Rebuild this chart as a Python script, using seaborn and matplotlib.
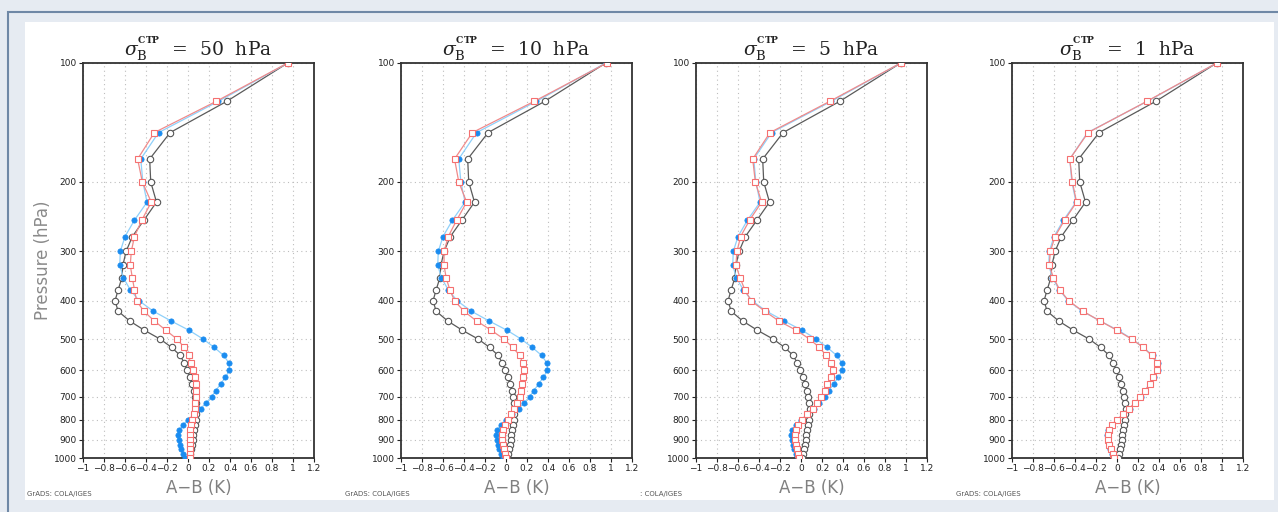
import matplotlib
matplotlib.use('Agg')
import matplotlib.pyplot as plt
import matplotlib.patches as mpatches
import seaborn as sns
import pandas as pd

# pressure levels (hPa)
levels = [100, 125, 150, 175, 200, 225, 250, 275, 300, 325, 350, 375, 400,
          425, 450, 475, 500, 525, 550, 575, 600, 625, 650, 675, 700, 725,
          750, 775, 800, 825, 850, 875, 900, 925, 950, 975, 1000]

# black open circles (same in all panels)
ctrl = [0.95, 0.37, -0.17, -0.365, -0.355, -0.30, -0.42, -0.53, -0.59, -0.62,
        -0.63, -0.665, -0.695, -0.665, -0.555, -0.415, -0.265, -0.155, -0.075,
        -0.035, -0.008, 0.018, 0.037, 0.055, 0.065, 0.075, 0.082, 0.08, 0.075,
        0.068, 0.06, 0.052, 0.045, 0.035, 0.026, 0.016, 0.005]

# blue filled dots (same in all panels)
ref = [0.95, 0.29, -0.28, -0.45, -0.43, -0.39, -0.51, -0.60, -0.645, -0.65,
       -0.615, -0.55, -0.465, -0.33, -0.16, 0.01, 0.145, 0.25, 0.34, 0.39,
       0.395, 0.355, 0.31, 0.265, 0.225, 0.172, 0.12, 0.06, 0.0, -0.05,
       -0.083, -0.097, -0.09, -0.078, -0.063, -0.047, -0.03]

# pink open squares, one per sigma
pink_50 = [0.95, 0.27, -0.32, -0.48, -0.435, -0.35, -0.44, -0.51, -0.54, -0.55,
           -0.53, -0.51, -0.49, -0.42, -0.32, -0.21, -0.105, -0.035, 0.005,
           0.025, 0.05, 0.065, 0.075, 0.08, 0.075, 0.07, 0.065, 0.055, 0.04,
           0.025, 0.02, 0.015, 0.015, 0.018, 0.02, 0.02, 0.02]
pink_10 = [0.96, 0.27, -0.32, -0.49, -0.45, -0.375, -0.47, -0.55, -0.59, -0.59,
           -0.57, -0.535, -0.49, -0.40, -0.28, -0.14, -0.02, 0.065, 0.13, 0.16,
           0.17, 0.16, 0.155, 0.145, 0.13, 0.105, 0.08, 0.05, 0.02, -0.005,
           -0.03, -0.04, -0.035, -0.03, -0.02, -0.005, 0.0]
pink_5 = [0.95, 0.275, -0.295, -0.46, -0.435, -0.375, -0.49, -0.575, -0.61,
          -0.62, -0.58, -0.535, -0.475, -0.345, -0.21, -0.045, 0.083, 0.175,
          0.24, 0.29, 0.30, 0.285, 0.25, 0.225, 0.195, 0.155, 0.11, 0.055,
          0.013, -0.03, -0.05, -0.06, -0.06, -0.05, -0.04, -0.03, -0.015]
pink_1 = [0.95, 0.285, -0.275, -0.45, -0.425, -0.385, -0.50, -0.59, -0.635,
          -0.645, -0.605, -0.545, -0.46, -0.325, -0.16, 0.0, 0.14, 0.25, 0.33,
          0.38, 0.385, 0.345, 0.31, 0.27, 0.22, 0.17, 0.115, 0.06, 0.0, -0.05,
          -0.08, -0.09, -0.09, -0.075, -0.057, -0.04, -0.025]

sigmas = ['50', '10', '5', '1']
pinks = [pink_50, pink_10, pink_5, pink_1]
xticks = [-1, -0.8, -0.6, -0.4, -0.2, 0, 0.2, 0.4, 0.6, 0.8, 1, 1.2]
xticklabels = ['\u22121', '\u22120.8', '\u22120.6', '\u22120.4', '\u22120.2', '0',
               '0.2', '0.4', '0.6', '0.8', '1', '1.2']
yticks = [100, 200, 300, 400, 500, 600, 700, 800, 900, 1000]
grads_labels = ['GrADS: COLA/IGES', 'GrADS: COLA/IGES', ': COLA/IGES', 'GrADS: COLA/IGES']

sns.set_style('white')
plt.rcParams['font.family'] = ['DejaVu Sans']
plt.rcParams['mathtext.fontset'] = 'dejavuserif'

W, H = 1278, 512
fig = plt.figure(figsize=(W / 100, H / 100), dpi=100)
fig.patch.set_facecolor('#e6ebf2')

# page frame (behind everything)
fig.patches.append(mpatches.Rectangle((8 / W, -0.1), 1.2, 1 - 12 / H + 0.1,
                                      transform=fig.transFigure, facecolor='#e6ebf2',
                                      edgecolor='#6f88a6', lw=1.5, zorder=-20))
fig.patches.append(mpatches.Rectangle((25 / W, 1 - 500 / H), (1274 - 25) / W, (500 - 22) / H,
                                      transform=fig.transFigure, facecolor='white',
                                      edgecolor='none', zorder=-10))

lefts = [83, 401, 696, 1012]
top_px, bot_px = 63, 458

for i, (sig, pink) in enumerate(zip(sigmas, pinks)):
    ax = fig.add_axes([lefts[i] / W, 1 - bot_px / H, 231 / W, (bot_px - top_px) / H])
    ax.set_facecolor('white')
    df = pd.DataFrame({'p': levels, 'ctrl': ctrl, 'ref': ref, 'pink': pink})

    sns.lineplot(data=df, x='ctrl', y='p', orient='y', ax=ax, color='#5a5a5a',
                 lw=0.9, marker='o', markersize=4.6, markerfacecolor='white',
                 markeredgecolor='#555555', markeredgewidth=0.8, zorder=3)
    sns.lineplot(data=df, x='ref', y='p', orient='y', ax=ax, color='#8fd0fa',
                 lw=0.9, marker='o', markersize=3.8, markerfacecolor='#1a8cf0',
                 markeredgecolor='#1a8cf0', markeredgewidth=0.5, zorder=4)
    sns.lineplot(data=df, x='pink', y='p', orient='y', ax=ax, color='#f08a8a',
                 lw=0.9, marker='s', markersize=5, markerfacecolor='white',
                 markeredgecolor='#f57070', markeredgewidth=0.8, zorder=5)

    ax.set_yscale('log')
    ax.set_ylim(1000, 100)
    ax.set_xlim(-1, 1.2)
    ax.set_yticks(yticks)
    ax.set_yticklabels([str(v) for v in yticks])
    ax.minorticks_off()
    ax.set_xticks(xticks)
    ax.set_xticklabels(xticklabels)
    ax.tick_params(axis='both', labelsize=6.5, length=3, width=0.8, pad=1.5,
                   direction='out', colors='#222222', bottom=True, left=True)
    ax.grid(True, color='#bdbdbd', linestyle=(0, (1, 3)), lw=0.8)
    for s in ax.spines.values():
        s.set_color('#333333')
        s.set_linewidth(1.3)

    ax.set_xlabel('A\u2212B (K)', fontsize=12, color='#808080', labelpad=4)
    if i == 0:
        ax.set_ylabel('Pressure (hPa)', fontsize=12, color='#8a8a8a', labelpad=1.5)
    else:
        ax.set_ylabel('')
    ax.set_title(r'$\sigma_\mathrm{B}^{{}^{\mathbf{CTP}}}$  =  ' + sig + '  hPa',
                 fontsize=13.5, family='DejaVu Serif', pad=5, color='#222222')

    fig.text((lefts[i] - 56) / W, 1 - 494 / H, grads_labels[i], fontsize=5,
             color='#555555', va='center', ha='left')

fig.savefig('out.png', dpi=100, facecolor=fig.get_facecolor())
